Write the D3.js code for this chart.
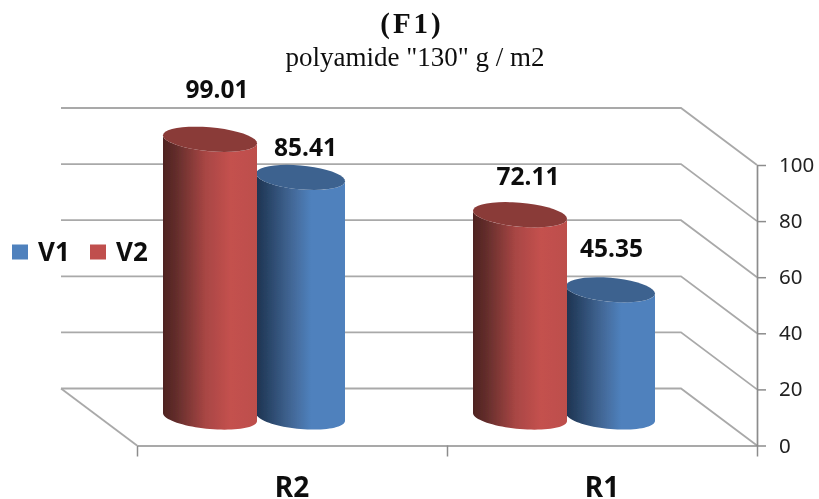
<!DOCTYPE html>
<html>
<head>
<meta charset="utf-8">
<script src="https://cdn.jsdelivr.net/npm/d3@7"></script>
<style>
html,body{margin:0;padding:0;background:#fff;overflow:hidden}
svg{display:block}
</style>
</head>
<body>
<svg id="chart" width="819" height="499"></svg>
<script>
const categories = ["R2", "R1"];
const seriesNames = ["V1", "V2"];
const v1Values = [85.41, 45.35];
const v2Values = [99.01, 72.11];
const yTicks = [0, 20, 40, 60, 80, 100];

const svg = d3.select("#chart");
const W = 819, H = 499;
const plotLeft = 137, plotRight = 757, plotBottom = 445.5, plotTop = 165;
const depthX = 76, depthY = 57;
const midX = depthX / 2, midY = depthY / 2;

const x = d3.scaleBand().domain(categories).range([plotLeft, plotRight]);
const edge = d3.scaleLinear().domain([0, categories.length]).range([plotLeft, plotRight]);
const y = d3.scaleLinear().domain([0, 100]).range([plotBottom, plotTop]);
const sub = d3.scalePoint().domain(["V2", "V1"]).range([-44, 46.5]);

const colors = {
  V1: {top: "#3d628f", swatch: "#4f81bd",
       stops: [[0, "#1e3350"], [0.14, "#294568"], [0.4, "#426796"], [0.62, "#4f81bd"], [1, "#4f81bd"]]},
  V2: {top: "#8a3a38", swatch: "#c0504d",
       stops: [[0, "#4e2321"], [0.14, "#632d2b"], [0.45, "#a84644"], [0.72, "#c4514e"], [1, "#bd4f4c"]]}
};
const radius = {V1: 44.5, V2: 47};
const ryBase = 12, shear = 0.085;

const defs = svg.append("defs");
defs.append("filter").attr("id", "soft").append("feGaussianBlur").attr("stdDeviation", 0.45);
seriesNames.forEach(s => {
  const g = defs.append("linearGradient").attr("id", "grad" + s);
  colors[s].stops.forEach(d => g.append("stop").attr("offset", d[0]).attr("stop-color", d[1]));
});

const root = svg.append("g").attr("filter", "url(#soft)");
root.append("rect").attr("width", W).attr("height", H).attr("fill", "#fff");

// walls: back gridlines running into the right-hand side wall
const gridPath = v => {
  const p = d3.path();
  p.moveTo(plotLeft - depthX, y(v) - depthY);
  p.lineTo(plotRight - depthX, y(v) - depthY);
  p.lineTo(plotRight, y(v));
  return p.toString();
};
root.selectAll("path.grid").data(yTicks).join("path")
  .attr("class", "grid").attr("d", gridPath)
  .attr("fill", "none").attr("stroke", "#a9a9a9").attr("stroke-width", 1.8);

// floor's left edge
const floorPath = d3.path();
floorPath.moveTo(plotLeft - depthX, y(0) - depthY);
floorPath.lineTo(plotLeft, y(0));
root.append("path").attr("d", floorPath.toString())
  .attr("fill", "none").attr("stroke", "#a9a9a9").attr("stroke-width", 1.8);

// axes
const styleAxis = g => {
  g.selectAll("path.domain").attr("stroke", "#8c8c8c").attr("stroke-width", 1.7);
  g.selectAll(".tick line").attr("stroke", "#8c8c8c").attr("stroke-width", 1.5);
};
const yAxis = root.append("g").attr("transform", `translate(${plotRight},0)`)
  .call(d3.axisRight(y).tickValues(yTicks).tickSize(9).tickSizeOuter(0).tickPadding(13))
  .call(styleAxis);
yAxis.selectAll("text").attr("font-family", "'Noto Sans'").attr("font-size", 20.5).attr("fill", "#222");

root.append("g").attr("transform", `translate(0,${plotBottom})`)
  .call(d3.axisBottom(edge).tickValues(d3.range(categories.length + 1)).tickFormat("").tickSize(11).tickSizeOuter(0))
  .call(styleAxis);

const catAxis = root.append("g").attr("transform", `translate(0,${plotBottom})`)
  .call(d3.axisBottom(x).tickSize(0).tickPadding(32));
catAxis.select("path.domain").remove();
catAxis.selectAll("text").attr("font-family", "'Noto Sans'").attr("font-weight", 700)
  .attr("font-size", 28).attr("fill", "#111");

// cylinders
const pointAt = (cx, cy, rx, t) => [cx + rx * Math.cos(t), cy + ryBase * Math.sin(t) + shear * rx * Math.cos(t)];
const arcAngles = d3.range(0, 1.0001, 1 / 40);
const line = d3.line();

const bars = [];
categories.forEach((c, i) => {
  bars.push({cat: c, series: "V1", value: v1Values[i]});
  bars.push({cat: c, series: "V2", value: v2Values[i]});
});

const cyl = root.selectAll("g.cyl").data(bars).join("g").attr("class", "cyl");
cyl.each(function(d) {
  const g = d3.select(this);
  const cx = x(d.cat) + x.bandwidth() / 2 - midX + sub(d.series);
  const rx = radius[d.series];
  const yBase = y(0) - midY, yTop = y(d.value) - midY;
  const bottomArc = arcAngles.map(f => pointAt(cx, yBase, rx, f * Math.PI));
  const topArc = arcAngles.map(f => pointAt(cx, yTop, rx, Math.PI - f * Math.PI));
  g.append("path").attr("d", line(bottomArc.concat(topArc)) + "Z").attr("fill", `url(#grad${d.series})`);
  const rim = arcAngles.map(f => pointAt(cx, yTop, rx, f * 2 * Math.PI));
  g.append("path").attr("d", line(rim) + "Z").attr("fill", colors[d.series].top);
});

// value labels sit at hand-placed offsets from their cylinder tops
const labelNudge = {"R2V2": [7, -41], "R2V1": [5, -21], "R1V2": [8, -30], "R1V1": [1, -33]};
root.selectAll("text.val").data(bars).join("text")
  .attr("class", "val")
  .attr("x", d => x(d.cat) + x.bandwidth() / 2 - midX + sub(d.series) + labelNudge[d.cat + d.series][0])
  .attr("y", d => y(d.value) - midY + labelNudge[d.cat + d.series][1])
  .attr("text-anchor", "middle")
  .attr("font-family", "'Noto Sans'").attr("font-weight", 700).attr("font-size", 24.5).attr("fill", "#111")
  .text(d => d.value.toFixed(2));

// title
root.append("text").attr("x", 412).attr("y", 33).attr("text-anchor", "middle")
  .attr("font-family", "'Liberation Serif'").attr("font-weight", 700).attr("font-size", 29)
  .attr("letter-spacing", 3).attr("fill", "#111").text("(F1)");
root.append("text").attr("x", 415).attr("y", 66).attr("text-anchor", "middle")
  .attr("font-family", "'Liberation Serif'").attr("font-size", 27).attr("fill", "#111")
  .text('polyamide "130" g / m2');

// legend
const legendX = d3.scalePoint().domain(seriesNames).range([12, 90]);
const legend = root.selectAll("g.leg").data(seriesNames).join("g").attr("class", "leg")
  .attr("transform", s => `translate(${legendX(s)},0)`);
legend.append("rect").attr("y", 244.5).attr("width", 16).attr("height", 15).attr("fill", s => colors[s].swatch);
legend.append("text").attr("x", 26).attr("y", 261)
  .attr("font-family", "'Noto Sans'").attr("font-weight", 700).attr("font-size", 26).attr("fill", "#111")
  .text(s => s);
</script>
</body>
</html>
